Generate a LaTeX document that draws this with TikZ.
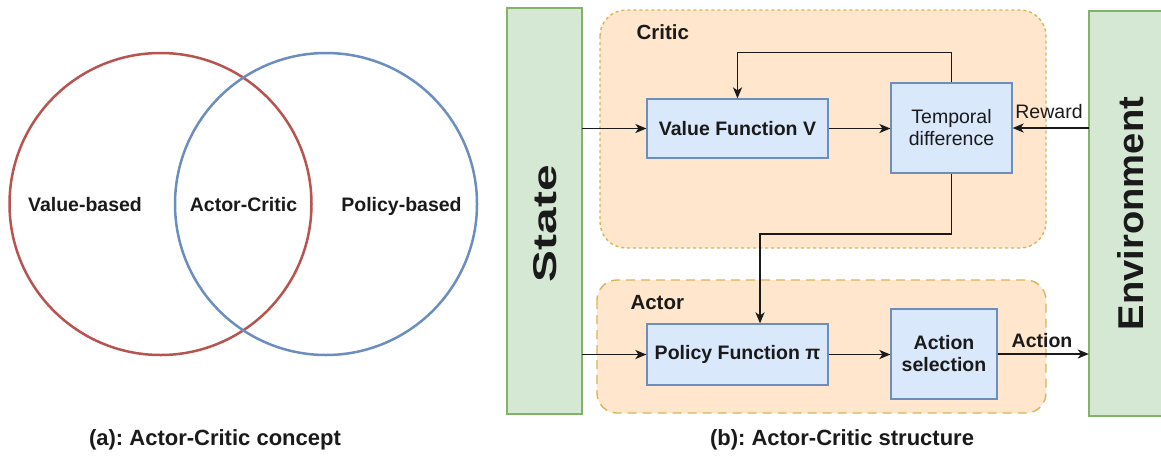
\documentclass[tikz,border=0pt]{standalone}
\usepackage{fontspec}
\setmainfont{Liberation Sans}
\usetikzlibrary{arrows.meta}
\frenchspacing

\definecolor{redline}{HTML}{B85450}
\definecolor{blueline}{HTML}{6C8EBF}
\definecolor{bluefill}{HTML}{DAE8FC}
\definecolor{greenfill}{HTML}{D5E8D4}
\definecolor{greenline}{HTML}{82B366}
\definecolor{peachfill}{HTML}{FFE6CC}
\definecolor{goldline}{HTML}{D6B656}
\definecolor{ink}{HTML}{1A1A1A}

\tikzset{
  txt/.style={font=\fontsize{19.5}{22}\selectfont, text=ink},
  boldtxt/.style={font=\fontsize{19.5}{22}\selectfont\bfseries, text=ink},
  caption/.style={font=\fontsize{22}{26}\selectfont\bfseries, text=ink, anchor=base},
  venn/.style={line width=2.5pt},
  fnbox/.style={draw=blueline, fill=bluefill, line width=1.2pt, inner sep=0pt, align=center},
  sidebar/.style={draw=greenline, fill=greenfill, line width=1.2pt},
  groupbox/.style={draw=goldline, fill=peachfill, line width=1.4pt},
  arr/.style={draw=ink, line width=1.8pt, -{Stealth[length=11pt,width=9pt,inset=3pt]}}
}

\begin{document}
\begin{tikzpicture}[x=1pt,y=-1pt]
\useasboundingbox (0,0) rectangle (1161,456);
\fill[white] (0,0) rectangle (1161,456);

% ---------- (a) concept ----------
\draw[venn, draw=redline] (160.5,204) circle (151);
\draw[venn, draw=blueline] (326,204) circle (151);
\node[boldtxt, anchor=base] (vb) at (85,211) {Value-based};
\node[boldtxt, anchor=base] (ac) at (243.5,211) {Actor-Critic};
\node[boldtxt, anchor=base] (pb) at (401.5,211) {Policy-based};
\node[caption] (capa) at (215,445) {(a): Actor-Critic concept};

% ---------- (b) structure ----------
% side bars
\draw[sidebar] (507,8) rectangle (582,414);
\node[inner sep=0pt, minimum width=75pt, minimum height=406pt] (state) at (544.5,211) {};
\node[rotate=90, inner sep=0pt, text=ink] (statelbl) at (545,223.5)
  {\resizebox{117pt}{23pt}{\bfseries State}};

\draw[sidebar] (1089,11) rectangle (1170,416);
\node[inner sep=0pt, minimum width=81pt, minimum height=405pt] (env) at (1129.5,213.5) {};
\node[rotate=90, inner sep=0pt, text=ink] (envlbl) at (1131,213.5)
  {\resizebox{233pt}{26pt}{\bfseries Environment}};

% groups
\draw[groupbox, rounded corners=26pt, dash pattern=on 3pt off 3pt] (600,10) rectangle (1046,248);
\node[boldtxt, font=\fontsize{20.5}{24}\selectfont\bfseries, anchor=base west] (criticlbl) at (633,39) {Critic};

\draw[groupbox, rounded corners=20pt, dash pattern=on 9pt off 6pt] (597,280) rectangle (1046,413);
\node[boldtxt, font=\fontsize{20.5}{24}\selectfont\bfseries, anchor=base west] (actorlbl) at (627,309) {Actor};

% function blocks
\node[fnbox, boldtxt, minimum width=181pt, minimum height=59pt] (vf) at (737.5,128.5) {Value Function V};
\node[fnbox, txt, minimum width=121pt, minimum height=90pt] (td) at (951.5,128) {Temporal\\difference};
\node[fnbox, boldtxt, minimum width=181pt, minimum height=61pt] (pf) at (737.5,354.5) {Policy Function π};
\node[fnbox, boldtxt, minimum width=106pt, minimum height=90pt] (as) at (944,354) {Action\\selection};

% critic connections
\draw[arr] (state.east |- vf) -- (vf.west);
\draw[arr] (vf.east) -- (vf.east -| td.west);
\draw[arr] (td.north) -- ++(0,-30) -| (vf.north);
\draw[arr] (env.west |- td) -- (td.east);
\node[txt, anchor=base] (reward) at (1049,118) {Reward};

% critic to actor
\coordinate (bend) at (951.5,234);
\draw[arr] (td.south) -- (td.south |- bend) -| ([xshift=22.5pt]pf.north);

% actor connections
\draw[arr] (state.east |- pf) -- (pf.west);
\draw[arr] (pf.east) -- (pf.east -| as.west);
\draw[arr] (as.east) -- (as.east -| env.west);
\node[boldtxt, anchor=base] (actionlbl) at (1042,347) {Action};

\node[caption] (capb) at (842,445) {(b): Actor-Critic structure};
\end{tikzpicture}
\end{document}
